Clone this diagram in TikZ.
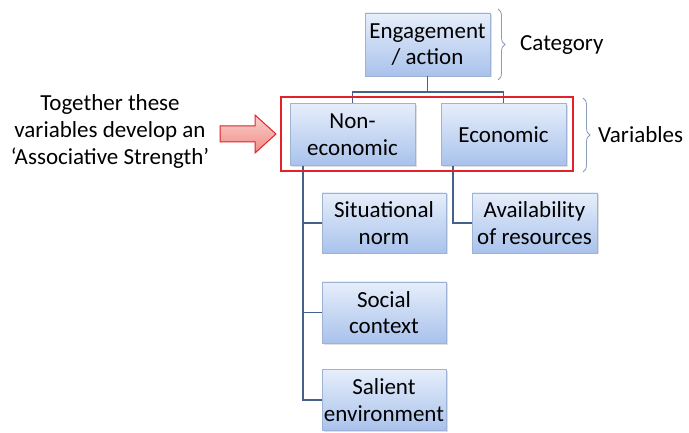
\documentclass[tikz,border=0pt]{standalone}
\usepackage{fontspec}
\setmainfont{Carlito}
\usetikzlibrary{shadows,decorations.pathreplacing}
\definecolor{boxtop}{HTML}{E6EEFA}
\definecolor{boxbot}{HTML}{A9C2EC}
\definecolor{boxline}{HTML}{9DB2D4}
\definecolor{wire}{HTML}{44628A}
\definecolor{frame}{HTML}{E3212B}
\definecolor{bracec}{HTML}{8A9BB5}
\definecolor{arrtop}{HTML}{FAD0CC}
\definecolor{arrbot}{HTML}{F08C84}
\tikzset{
  cell/.style={rectangle, draw=boxline, line width=0.8pt,
    top color=boxtop, bottom color=boxbot, align=center,
    font=\fontsize{23}{26.5}\selectfont, inner sep=1pt,
    drop shadow={opacity=0.25, shadow xshift=1.5pt, shadow yshift=-1.5pt}},
  wireline/.style={draw=wire, line width=1.4pt},
  note/.style={font=\fontsize{23}{27}\selectfont, align=center, inner sep=0pt},
  bracket/.style={draw=bracec, line width=0.8pt,
    decorate, decoration={brace, amplitude=7pt}}
}
\begin{document}
\begin{tikzpicture}[x=1pt, y=-1pt]
  \useasboundingbox[fill=white] (0,0) rectangle (689,433);

  % category and variable boxes
  \node[cell, minimum width=125pt, minimum height=63pt] (eng) at (427.5,44.5) {Engagement\\/ action};
  \node[cell, minimum width=125pt, minimum height=62pt] (noneco) at (352.5,134.5) {Non-\\economic};
  \node[cell, minimum width=125pt, minimum height=62pt] (eco) at (503.5,134.5) {Economic};

  % sub-variables
  \node[cell, minimum width=124pt, minimum height=60pt] (sit) at (384,223) {Situational\\norm};
  \node[cell, minimum width=124pt, minimum height=61pt] (soc) at (384,312.5) {Social\\context};
  \node[cell, minimum width=124pt, minimum height=61pt] (sal) at (384,400) {Salient\\environment};
  \node[cell, minimum width=125pt, minimum height=60pt] (avail) at (534.5,223) {Availability\\of resources};

  % connectors
  \coordinate (bus) at (427.5,92);
  \coordinate (ntrunk) at (303,166);
  \coordinate (etrunk) at (453,166);
  \draw[wireline] (eng.south) -- (bus);
  \draw[wireline] (bus) -| (noneco.north);
  \draw[wireline] (bus) -| (eco.north);
  \draw[wireline] (ntrunk) |- (sal.west);
  \draw[wireline] (ntrunk) |- (sit.west);
  \draw[wireline] (ntrunk) |- (soc.west);
  \draw[wireline] (etrunk) |- (avail.west);

  % frame around the variables
  \node[draw=frame, line width=2.2pt, minimum width=292pt, minimum height=74pt, inner sep=0pt] (varframe) at (427,134) {};

  % braces and their labels
  \draw[bracket] (498,9) -- (498,80);
  \node[note, anchor=west] (cat) at (520,45.5) {Category};
  \draw[bracket] (583,98) -- (583,172);
  \node[note, anchor=west] (vars) at (598,134.5) {Variables};

  % explanatory note and block arrow
  \node[note] (together) at (110,131) {Together these\\variables develop an\\‘Associative Strength’};
  \draw[draw=frame, line width=1pt, top color=arrtop, bottom color=arrbot, line join=miter]
    (220,126) -- (255,126) -- (255,115) -- (276,134) -- (255,153) -- (255,142) -- (220,142) -- cycle;
\end{tikzpicture}
\end{document}
